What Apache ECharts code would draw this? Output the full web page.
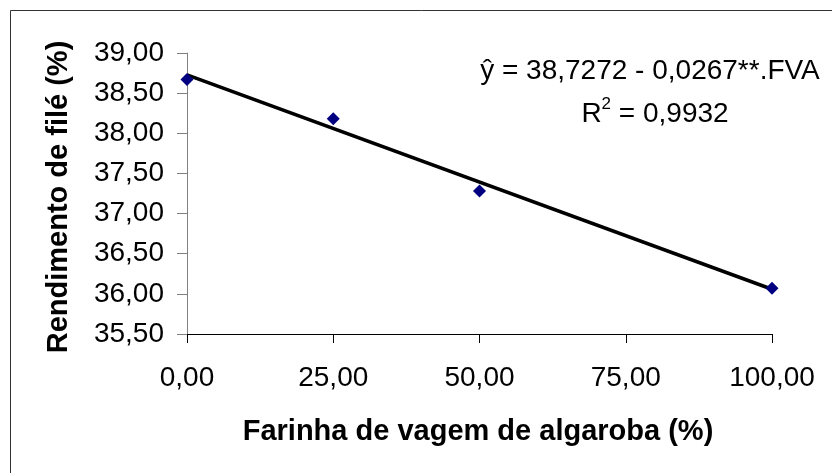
<!DOCTYPE html>
<html>
<head>
<meta charset="utf-8">
<script src="https://cdn.jsdelivr.net/npm/echarts@6/dist/echarts.min.js"></script>
<style>html,body{margin:0;padding:0;background:#fff;}#c{width:832px;height:473px;}</style>
</head>
<body>
<div id="c"></div>
<script>
var xValues = [0, 25, 50, 100];
var yValues = [38.67, 38.18, 37.28, 36.07];
var xTicks = [0, 25, 50, 75, 100];
var yTicks = [35.5, 36, 36.5, 37, 37.5, 38, 38.5, 39];
var intercept = 38.7272;
var slope = -0.0267;
var trendX = [0, 100];
var eqLine1 = 'ŷ = 38,7272 - 0,0267**.FVA';
var r2Text = '0,9932';
var xTitle = 'Farinha de vagem de algaroba (%)';
var yTitle = 'Rendimento de filé (%)';

var fmt = function (v) { return v.toFixed(2).replace('.', ','); };
var FONT = 'Liberation Sans, Arial, sans-serif';

var chart = echarts.init(document.getElementById('c'));
chart.setOption({
  animation: false,
  backgroundColor: '#fff',
  grid: { left: 187, right: 60, top: 53, bottom: 139, containLabel: false },
  xAxis: {
    type: 'value', min: 0, max: 100, interval: 25,
    axisLine: { show: true, onZero: false, lineStyle: { color: '#000', width: 1 } },
    axisTick: { show: true, inside: false, length: 9, lineStyle: { color: '#000' } },
    splitLine: { show: false },
    axisLabel: { margin: 30, fontSize: 28, color: '#000', fontFamily: FONT, formatter: fmt }
  },
  yAxis: {
    type: 'value', min: 35.5, max: 39, interval: 0.5,
    axisLine: { show: true, onZero: false, lineStyle: { color: '#808080', width: 1 } },
    axisTick: { show: true, inside: false, length: 10, lineStyle: { color: '#808080' } },
    splitLine: { show: false },
    axisLabel: { margin: 23, fontSize: 28, color: '#000', fontFamily: FONT, formatter: fmt }
  },
  series: [
    {
      type: 'line',
      data: trendX.map(function (x) { return [x, intercept + slope * x]; }),
      symbol: 'none',
      lineStyle: { color: '#000', width: 3.5 },
      z: 2
    },
    {
      type: 'scatter',
      data: xValues.map(function (x, i) { return [x, yValues[i]]; }),
      symbol: 'diamond',
      symbolSize: [13, 13],
      itemStyle: { color: '#000080', opacity: 1 },
      z: 3
    }
  ],
  graphic: [
    { type: 'rect', shape: { x: 10.5, y: 10.5, width: 1000, height: 1000 }, style: { fill: 'none', stroke: '#333', lineWidth: 1 }, silent: true },
    { type: 'text', x: 650, y: 71, style: { text: eqLine1, font: '28px ' + FONT, fill: '#000', align: 'center', verticalAlign: 'middle' } },
    { type: 'text', x: 655, y: 112, style: {
        text: '{r|R}{s|2}{r| = ' + r2Text + '}',
        align: 'center', verticalAlign: 'middle', fill: '#000',
        rich: {
          r: { fontSize: 28, fontFamily: FONT, fill: '#000', verticalAlign: 'bottom', lineHeight: 32 },
          s: { fontSize: 17, fontFamily: FONT, fill: '#000', verticalAlign: 'top', lineHeight: 32 }
        }
      } },
    { type: 'text', x: 478, y: 432, style: { text: xTitle, font: 'bold 29px ' + FONT, fill: '#000', align: 'center', verticalAlign: 'middle' } },
    { type: 'text', x: 59, y: 197, rotation: Math.PI / 2, style: { text: yTitle, font: 'bold 29px ' + FONT, fill: '#000', align: 'center', verticalAlign: 'middle' } }
  ]
});
</script>
</body>
</html>
